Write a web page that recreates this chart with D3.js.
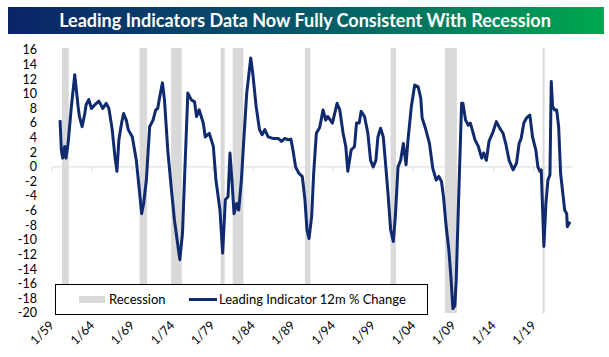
<!DOCTYPE html>
<html><head><meta charset="utf-8">
<script src="https://cdn.jsdelivr.net/npm/d3@7"></script>
<style>html,body{margin:0;padding:0;background:#fff}svg{display:block}</style>
</head><body><svg id="c" width="609" height="357"></svg>
<script>
const titleText = "Leading Indicators Data Now Fully Consistent With Recession";
const seriesName = "Leading Indicator 12m % Change";
const recessionName = "Recession";
const yTicks = [16,14,12,10,8,6,4,2,0,-2,-4,-6,-8,-10,-12,-14,-16,-18,-20];
const xTickLabels = ["1/59","1/64","1/69","1/74","1/79","1/84","1/89","1/94","1/99","1/04","1/09","1/14","1/19"];
const xTickDates = ["1959-01","1964-01","1969-01","1974-01","1979-01","1984-01","1989-01","1994-01","1999-01","2004-01","2009-01","2014-01","2019-01"];
const recStart = ["1960-04","1969-12","1973-11","1980-01","1981-07","1990-07","2001-03","2007-12","2020-02"];
const recEnd   = ["1961-02","1970-11","1975-03","1980-07","1982-11","1991-03","2001-11","2009-06","2020-04"];
const dates = ["1960-01","1960-03","1960-05","1960-08","1960-10","1961-01","1961-06","1961-11","1962-04","1962-06","1962-10","1963-02","1963-04","1963-08","1963-12","1964-05","1964-11","1965-05","1965-10","1966-02","1966-07","1966-11","1967-02","1967-05","1967-09","1967-12","1968-04","1968-07","1969-01","1969-07","1969-11","1970-03","1970-06","1970-10","1971-03","1971-08","1971-12","1972-03","1972-06","1972-10","1973-01","1973-06","1973-11","1974-04","1974-08","1974-12","1975-04","1975-07","1975-12","1976-05","1976-10","1977-01","1977-05","1977-11","1978-02","1978-08","1979-02","1979-06","1979-12","1980-04","1980-08","1980-12","1981-03","1981-06","1981-09","1982-01","1982-04","1982-08","1982-11","1983-04","1983-10","1984-01","1984-06","1984-11","1985-03","1985-07","1985-12","1986-07","1987-03","1987-08","1988-01","1988-06","1988-10","1989-01","1989-05","1989-10","1990-03","1990-07","1990-10","1991-01","1991-05","1991-08","1991-12","1992-05","1992-10","1993-02","1993-05","1993-12","1994-07","1994-11","1995-04","1995-08","1995-11","1996-04","1996-09","1996-12","1997-04","1997-07","1997-12","1998-05","1998-09","1999-01","1999-05","1999-08","1999-12","2000-04","2000-07","2000-11","2001-03","2001-07","2001-10","2002-02","2002-06","2002-10","2003-02","2003-05","2003-10","2004-03","2004-08","2004-12","2005-02","2005-07","2006-01","2006-06","2006-11","2007-03","2007-07","2007-10","2008-02","2008-06","2008-09","2008-12","2009-03","2009-05","2009-09","2010-01","2010-03","2010-07","2010-11","2011-02","2011-05","2011-09","2012-02","2012-07","2012-10","2013-02","2013-06","2013-12","2014-05","2014-10","2015-03","2015-07","2015-12","2016-06","2016-11","2017-03","2017-06","2017-10","2018-02","2018-07","2018-11","2019-04","2019-07","2019-10","2019-12","2020-04","2020-07","2020-10","2021-01","2021-03","2021-05","2021-08","2021-11","2022-02","2022-05","2022-11","2023-02","2023-03","2023-07"];
const values = [6.4,2.3,1.2,2.8,1.2,3.2,8.3,12.6,8.3,6.9,5.5,7.3,8.5,9.2,8.0,8.5,9.0,8.0,8.7,8.0,5.1,1.4,-0.6,3.7,6.0,7.3,6.4,5.1,4.1,0.9,-2.7,-6.4,-5.0,-1.8,5.5,6.4,7.8,8.0,9.6,11.5,9.2,2.3,-2.7,-7.3,-10.0,-12.7,-9.1,-1.8,10.1,9.2,8.9,6.9,7.8,6.0,4.1,4.6,2.8,-1.8,-5.9,-11.8,-4.5,-4.1,1.9,-2.0,-6.4,-5.0,-5.9,-1.8,2.8,10.1,14.9,12.8,8.3,5.1,4.4,5.1,4.1,3.9,3.9,3.5,3.9,3.7,3.8,2.3,0.0,-0.9,-1.3,-4.5,-8.6,-9.8,-6.8,-0.9,4.6,5.4,7.8,6.4,6.9,6.0,8.7,7.8,4.6,2.8,-0.6,2.3,2.8,6.0,6.0,7.6,6.9,4.6,0.9,0.0,0.9,4.1,5.3,4.1,0.9,-3.6,-8.6,-10.2,-6.8,0.0,0.9,3.2,0.3,3.7,8.3,11.2,11.0,9.4,6.7,5.3,3.2,-0.2,-1.8,-1.3,-2.0,-4.1,-8.2,-11.4,-15.0,-19.4,-19.0,-15.5,-3.1,8.7,8.7,6.4,5.7,6.0,5.1,3.7,2.8,1.2,1.9,0.9,3.5,4.8,6.2,5.3,4.6,3.2,0.9,-0.4,0.5,3.2,3.9,6.0,6.7,7.1,4.1,2.3,0.0,-0.6,-0.4,-10.9,-5.0,-1.8,-1.1,11.7,8.3,7.8,7.8,5.5,-0.9,-5.9,-6.4,-8.2,-7.5];

const parse = d3.timeParse("%Y-%m");
const svg = d3.select("#c");
const font = "Lato, 'Open Sans', sans-serif";

// title bar
const defs = svg.append("defs");
const grad = defs.append("linearGradient").attr("id","tg").attr("x1","0%").attr("x2","100%");
grad.append("stop").attr("offset","0%").attr("stop-color","#0b2468");
grad.append("stop").attr("offset","50%").attr("stop-color","#05586a");
grad.append("stop").attr("offset","100%").attr("stop-color","#00a84f");
svg.append("rect").attr("x",8).attr("y",7).attr("width",596).attr("height",27).attr("fill","url(#tg)");
const tt = svg.append("text").attr("x",305).attr("y",27).attr("text-anchor","middle")
  .attr("fill","#fff").attr("font-family",font).attr("font-weight","bold").attr("font-size",17).text(titleText);
{ const w = tt.node().getComputedTextLength(); tt.attr("font-size", 17*492/w); }

const x = d3.scaleTime().domain([parse("1959-01"), parse("2023-10")]).range([52, 572]);
const y = d3.scaleLinear().domain([-20, 16]).range([313, 50]);

// recession bands
svg.append("g").selectAll("rect").data(recStart).join("rect")
  .attr("x", (d,i)=>x(parse(d)))
  .attr("width", (d,i)=>Math.max(2, x(parse(recEnd[i])) - x(parse(d))))
  .attr("y", 48).attr("height", 313-48).attr("fill", "#d9d9d9");

// zero line + ticks
svg.append("line").attr("x1",52).attr("x2",572).attr("y1",y(0)).attr("y2",y(0)).attr("stroke","#d9d9d9").attr("stroke-width",1);
svg.append("g").selectAll("line").data(xTickDates).join("line")
  .attr("x1",d=>x(parse(d))).attr("x2",d=>x(parse(d))).attr("y1",y(0)).attr("y2",y(0)+4)
  .attr("stroke","#d9d9d9");

// y labels
svg.append("g").selectAll("text").data(yTicks).join("text")
  .attr("x", 37).attr("y", d=>y(d)).attr("dy","0.35em").attr("text-anchor","end")
  .attr("font-family",font).attr("font-size",12.5).attr("fill","#000").text(d=>d);

// x labels
svg.append("g").selectAll("text").data(xTickDates).join("text")
  .attr("text-anchor","end").attr("font-family",font).attr("font-size",12.5).attr("fill","#000")
  .attr("transform", d=>`translate(${x(parse(d))+3},${326}) rotate(-45)`)
  .text((d,i)=>xTickLabels[i]);

// line
const line = d3.line().x((d,i)=>x(parse(dates[i]))).y(d=>y(d));
svg.append("path").datum(values).attr("d", line).attr("fill","none")
  .attr("stroke","#0f2a6e").attr("stroke-width",3).attr("stroke-linejoin","round");

// legend
const lg = svg.append("g");
lg.append("rect").attr("x",55.5).attr("y",284.5).attr("width",372).attr("height",30).attr("fill","#fff").attr("stroke","#000").attr("stroke-width",1);
lg.append("rect").attr("x",79).attr("y",296).attr("width",26).attr("height",7).attr("fill","#d9d9d9");
lg.append("text").attr("x",109).attr("y",303.5).attr("font-family",font).attr("font-size",13).text(recessionName);
lg.append("line").attr("x1",189).attr("x2",217).attr("y1",299.5).attr("y2",299.5).attr("stroke","#0f2a6e").attr("stroke-width",3);
lg.append("text").attr("x",219).attr("y",303.5).attr("font-family",font).attr("font-size",13).text(seriesName);
</script></body></html>
